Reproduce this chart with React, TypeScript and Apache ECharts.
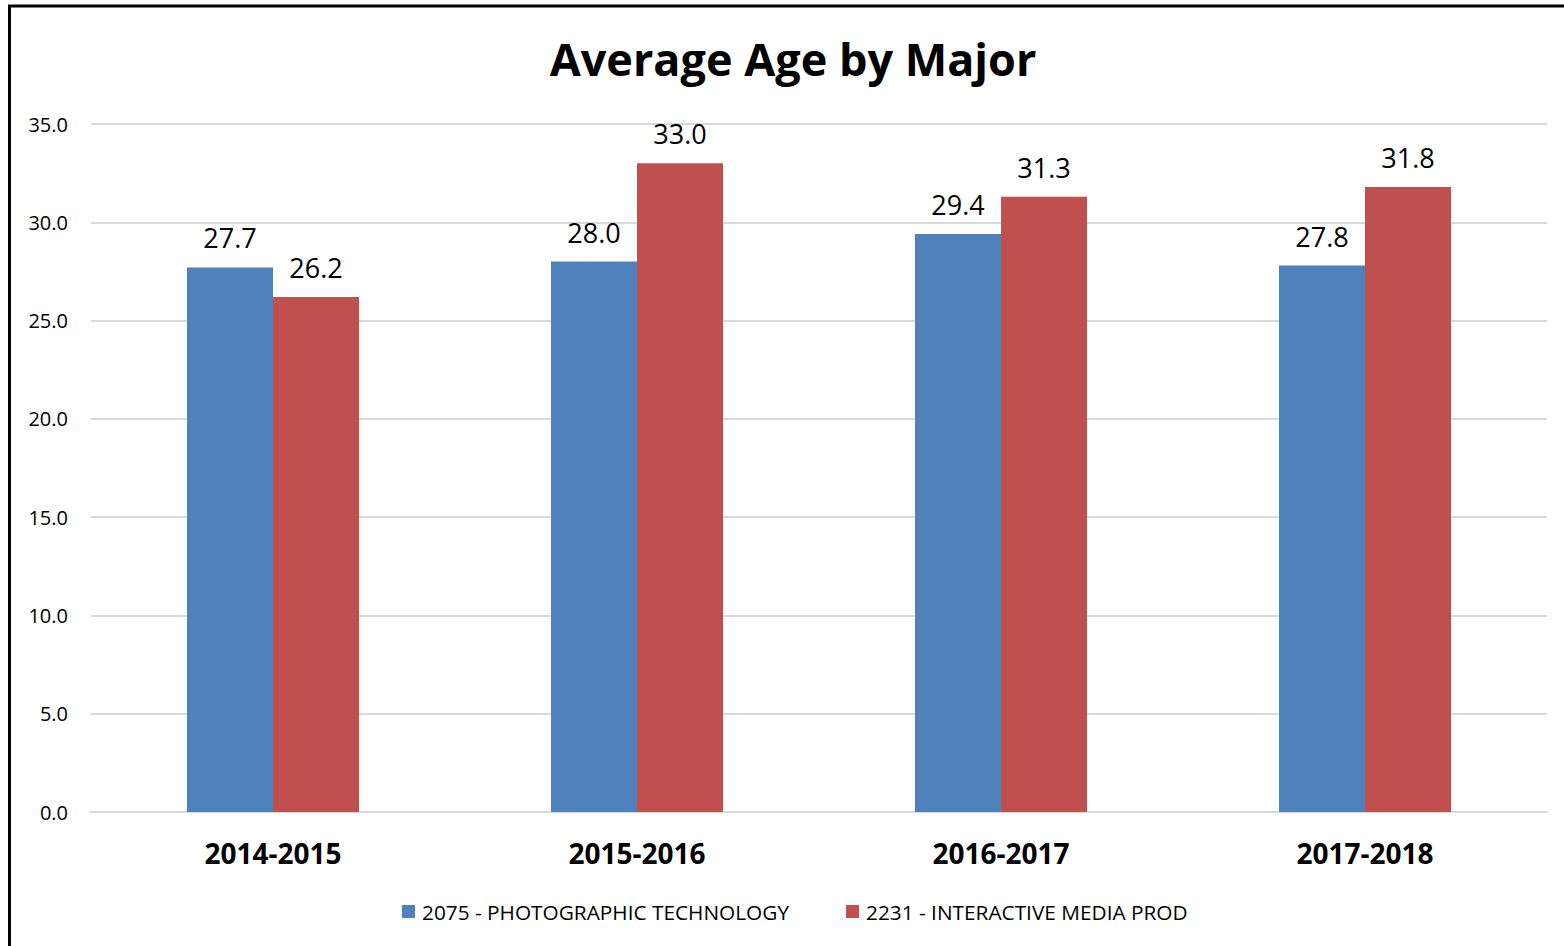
import React, { useEffect, useRef } from "react";
import * as echarts from "echarts";

const categories = ["2014-2015", "2015-2016", "2016-2017", "2017-2018"];
const seriesNames = ["2075 - PHOTOGRAPHIC TECHNOLOGY", "2231 - INTERACTIVE MEDIA PROD"];
const photoValues = [27.7, 28.0, 29.4, 27.8];
const mediaValues = [26.2, 33.0, 31.3, 31.8];
const yMin = 0;
const yMax = 35;
const yInterval = 5;
const titleText = "Average Age by Major";

const FONT = "'Open Sans', 'Noto Sans', sans-serif";

export default function App() {
  const ref = useRef<HTMLDivElement>(null);
  useEffect(() => {
    if (!ref.current) return;
    const chart = echarts.init(ref.current, undefined, { renderer: "svg" });
    const labelCfg = {
      show: true,
      position: "top",
      distance: 16,
      fontFamily: FONT,
      fontSize: 27,
      color: "#000",
      formatter: (p: any) => Number(p.value).toFixed(1),
    };
    chart.setOption({
      animation: false,
      backgroundColor: "#fff",
      textStyle: { fontFamily: FONT },
      grid: { left: 91, right: 17, top: 124, bottom: 134, containLabel: false },
      graphic: [
        {
          type: "rect",
          shape: { x: 9.5, y: 6, width: 1600, height: 1000 },
          style: { fill: "none", stroke: "#000", lineWidth: 3 },
          silent: true,
        },
        {
          type: "text",
          x: 793,
          y: 58,
          style: {
            text: titleText,
            fontFamily: FONT,
            fontWeight: "bold",
            fontSize: 45,
            fill: "#000",
            textAlign: "center",
            textVerticalAlign: "middle",
          },
        },
      ],
      legend: {
        left: 402,
        top: 901,
        padding: 0,
        icon: "rect",
        itemWidth: 13,
        itemHeight: 13,
        itemGap: 57,
        textStyle: { fontFamily: FONT, fontSize: 20.8, color: "#000", padding: [0, 0, 0, 2] },
        data: seriesNames,
      },
      xAxis: {
        type: "category",
        data: categories,
        axisLine: { show: true, lineStyle: { color: "#D9D9D9", width: 2 } },
        axisTick: { show: false },
        axisLabel: {
          fontFamily: FONT,
          fontWeight: "bold",
          fontSize: 28,
          color: "#000",
          margin: 27,
        },
      },
      yAxis: {
        type: "value",
        min: yMin,
        max: yMax,
        interval: yInterval,
        axisLine: { show: false },
        axisTick: { show: false },
        splitLine: { lineStyle: { color: "#D9D9D9", width: 2 } },
        axisLabel: {
          fontFamily: FONT,
          fontSize: 20,
          color: "#000",
          margin: 23,
          formatter: (v: number) => v.toFixed(1),
        },
      },
      series: [
        {
          name: seriesNames[0],
          type: "bar",
          data: photoValues,
          barWidth: 86,
          barGap: "0%",
          itemStyle: { color: "#4F81BD" },
          label: labelCfg,
        },
        {
          name: seriesNames[1],
          type: "bar",
          data: mediaValues,
          barWidth: 86,
          barGap: "0%",
          itemStyle: { color: "#C0504D" },
          label: labelCfg,
        },
      ],
    });
    return () => chart.dispose();
  }, []);
  return (
    <div
      ref={ref}
      style={{ position: "absolute", left: 0, top: 0, width: 1564, height: 946 }}
    />
  );
}
